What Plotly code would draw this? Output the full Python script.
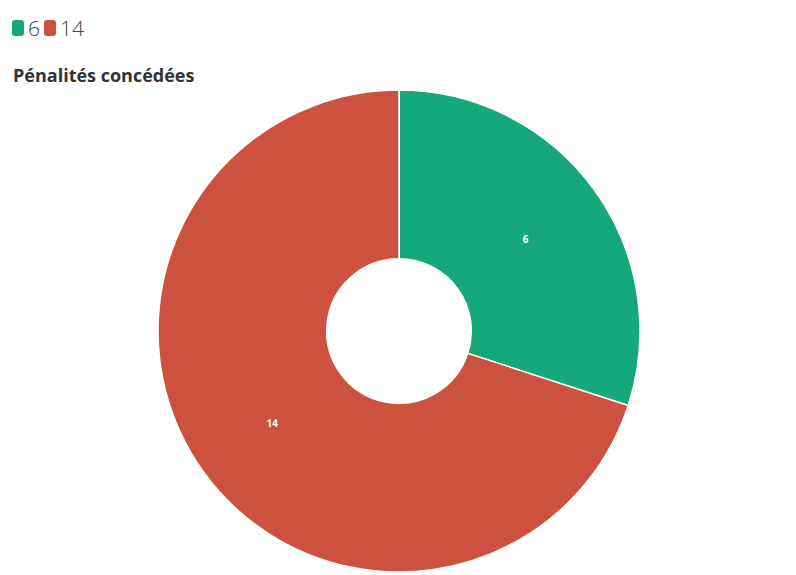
import plotly.graph_objects as go

labels = ["6", "14"]
values = [6, 14]
colors = ["#14a87a", "#cc513f"]
title_text = "Pénalités concédées"

W, H = 796, 575
OFF = 8  # page body margin offset


def px(x):
    return (x - OFF) / W


def py(y):
    return 1 - (y - OFF) / H


def rounded_rect(x0, y0, x1, y1, r):
    # pixel coords (screen) -> paper path with rounded corners
    pts = [
        f"M {px(x0 + r)},{py(y0)}",
        f"L {px(x1 - r)},{py(y0)}",
        f"Q {px(x1)},{py(y0)} {px(x1)},{py(y0 + r)}",
        f"L {px(x1)},{py(y1 - r)}",
        f"Q {px(x1)},{py(y1)} {px(x1 - r)},{py(y1)}",
        f"L {px(x0 + r)},{py(y1)}",
        f"Q {px(x0)},{py(y1)} {px(x0)},{py(y1 - r)}",
        f"L {px(x0)},{py(y0 + r)}",
        f"Q {px(x0)},{py(y0)} {px(x0 + r)},{py(y0)}",
        "Z",
    ]
    return " ".join(pts)


fig = go.Figure(go.Pie(
    labels=labels,
    values=values,
    hole=0.3,
    sort=False,
    direction="clockwise",
    rotation=0,
    marker=dict(colors=colors, line=dict(color="white", width=1.5)),
    textinfo="label",
    textposition="inside",
    insidetextfont=dict(color="white", size=10, family="Open Sans"),
    texttemplate="<b>%{label}</b>",
    domain=dict(x=[px(158), px(640)], y=[py(572), py(90)]),
    hoverinfo="label+value",
    showlegend=False,
))

shapes = []
annotations = []

# compact legend drawn from data
legend_x = [12, 44]
for i, (lab, col) in enumerate(zip(labels, colors)):
    x0 = legend_x[i]
    shapes.append(dict(type="path", xref="paper", yref="paper",
                       path=rounded_rect(x0, 20, x0 + 12, 36, 3),
                       fillcolor=col, line=dict(width=0)))
    annotations.append(dict(text=lab, x=px(x0 + 14), y=py(28), xref="paper", yref="paper",
                            xanchor="left", yanchor="middle", showarrow=False,
                            font=dict(size=21, color="#444444", family="Open Sans", weight=300)))

annotations.append(dict(text="<b>" + title_text + "</b>", x=px(11), y=py(75), xref="paper", yref="paper",
                        xanchor="left", yanchor="middle", showarrow=False,
                        font=dict(size=18, color="#333333", family="Open Sans")))

fig.update_layout(
    width=W, height=H,
    margin=dict(l=0, r=0, t=0, b=0),
    paper_bgcolor="white",
    plot_bgcolor="white",
    font=dict(family="Open Sans", color="#444444"),
    showlegend=False,
    shapes=shapes,
    annotations=annotations,
)

fig.write_html("out.html")
